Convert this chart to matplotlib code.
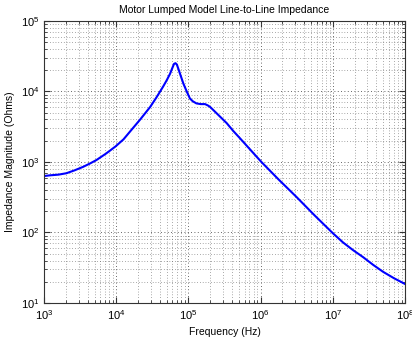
import numpy as np
import matplotlib.pyplot as plt
from matplotlib.ticker import LogLocator, NullFormatter

plt.rcParams['font.family'] = ['Liberation Sans', 'DejaVu Sans']
plt.rcParams['mathtext.fontset'] = 'custom'
plt.rcParams['mathtext.rm'] = 'Liberation Sans'

# values (log10 of frequency and impedance)
log_freq = [3.00, 3.08, 3.20, 3.31, 3.42, 3.54, 3.64, 3.73, 3.86, 3.99,
            4.10, 4.19, 4.33, 4.47, 4.56, 4.65, 4.70, 4.745, 4.78, 4.80,
            4.82, 4.84, 4.88, 4.93, 4.98, 5.02, 5.06, 5.11, 5.17, 5.23,
            5.27, 5.30, 5.40, 5.53, 5.62, 5.71, 5.86, 6.01, 6.25, 6.50,
            6.75, 7.00, 7.14, 7.28, 7.42, 7.56, 7.70, 7.85, 8.00]
log_imp = [2.80, 2.81, 2.82, 2.84, 2.88, 2.93, 2.98, 3.03, 3.12, 3.22,
           3.32, 3.43, 3.60, 3.78, 3.92, 4.07, 4.16, 4.25, 4.34, 4.39,
           4.40, 4.38, 4.26, 4.11, 3.99, 3.90, 3.86, 3.83, 3.82, 3.82,
           3.80, 3.78, 3.68, 3.55, 3.44, 3.34, 3.17, 3.00, 2.75, 2.50,
           2.24, 1.99, 1.86, 1.75, 1.65, 1.54, 1.44, 1.35, 1.27]

freq = 10 ** np.array(log_freq)
imp = 10 ** np.array(log_imp)

fig = plt.figure(figsize=(4.12, 3.42), dpi=100)
ax = fig.add_axes([0.107, 0.114, 0.876, 0.825])
ax.loglog(freq, imp, color=(0, 0, 1), lw=1.5)
ax.set_xlim(1e3, 1e8)
ax.set_ylim(1e1, 1e5)

ax.xaxis.set_major_locator(LogLocator(base=10, numticks=10))
ax.yaxis.set_major_locator(LogLocator(base=10, numticks=10))
ax.xaxis.set_minor_locator(LogLocator(base=10, subs=np.arange(2, 10), numticks=10))
ax.yaxis.set_minor_locator(LogLocator(base=10, subs=np.arange(2, 10), numticks=10))
ax.xaxis.set_minor_formatter(NullFormatter())
ax.yaxis.set_minor_formatter(NullFormatter())

dots = (0, (1, 3))
ax.grid(True, which='major', color='0.2', linestyle=dots, linewidth=0.6)
ax.grid(True, which='minor', color='0.35', linestyle=dots, linewidth=0.5)
ax.tick_params(which='both', direction='in', top=True, right=True,
               labelsize=8, color='0.2')
ax.tick_params(which='major', length=4)
ax.tick_params(which='minor', length=2)
for s in ax.spines.values():
    s.set_color('0.2')

ax.set_title('Motor Lumped Model Line-to-Line Impedance', fontsize=7.5)
ax.set_xlabel('Frequency (Hz)', fontsize=7.5)
ax.set_ylabel('Impedance Magnitude (Ohms)', fontsize=7.5)

fig.savefig('out.png', dpi=100)
